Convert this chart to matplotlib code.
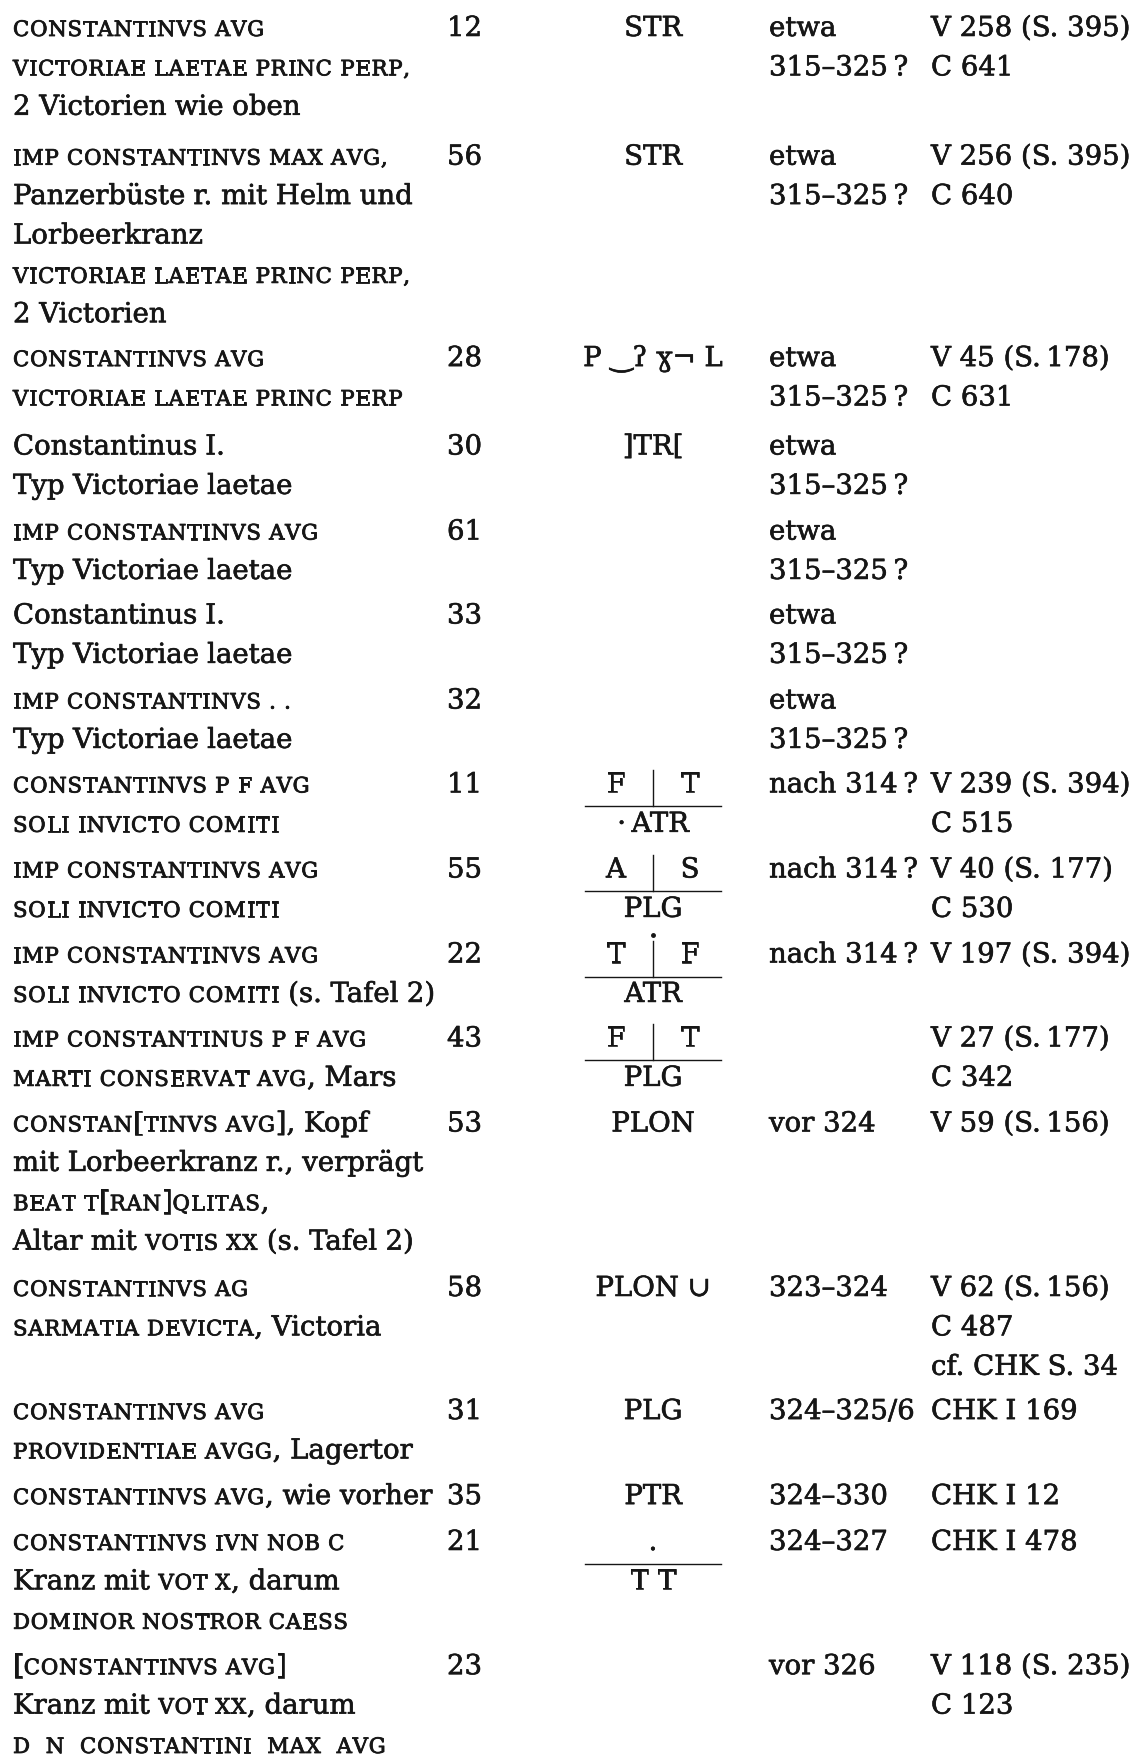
import re
import matplotlib
matplotlib.use("Agg")
import matplotlib.pyplot as plt
import matplotlib.patheffects as pe

FONT = ["DejaVu Serif", "DejaVu Sans"]
INK = "#161616"
DICK = [pe.withStroke(linewidth=0.45, foreground=INK)]
DICK_SC = [pe.withStroke(linewidth=0.6, foreground=INK)]

# Katalog-Daten, {...} = Kapitälchen
nummern = [12, 56, 28, 30, 61, 33, 32, 11, 55, 22, 43, 53, 58, 31, 35, 21, 23]

legende = [
    ["{CONSTANTINVS AVG}", "{VICTORIAE LAETAE PRINC PERP,}", "2 Victorien wie oben"],
    ["{IMP CONSTANTINVS MAX AVG,}", "Panzerbüste r. mit Helm und", "Lorbeerkranz",
     "{VICTORIAE LAETAE PRINC PERP,}", "2 Victorien"],
    ["{CONSTANTINVS AVG}", "{VICTORIAE LAETAE PRINC PERP}"],
    ["Constantinus I.", "Typ Victoriae laetae"],
    ["{IMP CONSTANTINVS AVG}", "Typ Victoriae laetae"],
    ["Constantinus I.", "Typ Victoriae laetae"],
    ["{IMP CONSTANTINVS . .}", "Typ Victoriae laetae"],
    ["{CONSTANTINVS P F AVG}", "{SOLI INVICTO COMITI}"],
    ["{IMP CONSTANTINVS AVG}", "{SOLI INVICTO COMITI}"],
    ["{IMP CONSTANTINVS AVG}", "{SOLI INVICTO COMITI} (s. Tafel 2)"],
    ["{IMP CONSTANTINUS P F AVG}", "{MARTI CONSERVAT AVG}, Mars"],
    ["{CONSTAN}[{TINVS AVG}], Kopf", "mit Lorbeerkranz r., verprägt",
     "{BEAT T}[{RAN}]{QLITAS},", "Altar mit {VOTIS XX} (s. Tafel 2)"],
    ["{CONSTANTINVS AG}", "{SARMATIA DEVICTA}, Victoria"],
    ["{CONSTANTINVS AVG}", "{PROVIDENTIAE AVGG}, Lagertor"],
    ["{CONSTANTINVS AVG}, wie vorher"],
    ["{CONSTANTINVS IVN NOB C}", "Kranz mit {VOT X}, darum", "{DOMINOR NOSTROR CAESS}"],
    ["[{CONSTANTINVS AVG}]", "Kranz mit {VOT XX}, darum", "{D  N  CONSTANTINI  MAX  AVG}"],
]

mzz_oben = ["STR", "STR", "P ‿ʔ ɣ¬ L", "]TR[", "", "", "", "F|T", "A|S", "T|F", "F|T",
            "PLON", "PLON ∪", "PLG", "PTR", ".", ""]
mzz_unten = ["", "", "", "", "", "", "", "·\u2009ATR", "PLG", "ATR", "PLG",
             "", "", "", "", "T T", ""]
mzz_punkt = [9]

daten = [["etwa", "315–325\u2009?"]] * 7 + [["nach 314\u2009?"]] * 3 + [
    [], ["vor 324"], ["323–324"], ["324–325/6"], ["324–330"], ["324–327"], ["vor 326"]]

belege = [
    ["V 258 (S. 395)", "C 641"],
    ["V 256 (S. 395)", "C 640"],
    ["V 45 (S.\u2009178)", "C 631"],
    [], [], [], [],
    ["V 239 (S. 394)", "C 515"],
    ["V 40 (S. 177)", "C 530"],
    ["V 197 (S. 394)"],
    ["V 27 (S.\u2009177)", "C 342"],
    ["V 59 (S.\u2009156)"],
    ["V 62 (S.\u2009156)", "C 487", "cf. CHK S. 34"],
    ["CHK I 169"],
    ["CHK I 12"],
    ["CHK I 478"],
    ["V 118 (S. 235)", "C 123"],
]

# Satzspiegel (Pixel)
W, H = 1146, 1758
X_LEG, X_NUM, X_MZ, X_DAT, X_REF = 13, 447, 653, 769, 931
ZEILE = 39.4
kopf = [25, 140, 320, 399, 475, 550, 626, 701, 777, 853, 928, 1004, 1151, 1261, 1337, 1378, 1489]
basis = [k * 1.119 + 9 for k in kopf]

fig = plt.figure(figsize=(W / 100, H / 100), dpi=100)
ax = fig.add_axes([0, 0, 1, 1])
ax.set_xlim(0, W)
ax.set_ylim(H, 0)
ax.axis("off")
R = fig.canvas.get_renderer()

_cache = {}


def breite(s, size):
    if (s, size) not in _cache:
        t = ax.text(0, 0, s, fontsize=size, family=FONT)
        _cache[(s, size)] = t.get_window_extent(R).width
        t.remove()
    return _cache[(s, size)]


def vorschub(s, size):
    return breite("|" + s + "|", size) - breite("||", size)


RM = 20 * 400 / vorschub("Panzerbüste r. mit Helm und", 20)
SC = RM * 0.77
# Sperrung der Kapitälchen
_probe = "VICTORIAE LAETAE PRINC PERP,"
SPERR = (397 - sum(vorschub(c, SC) for c in _probe)) / (len(_probe) - 1)


def schreib(x, y, s, size=None, ha="left", fx=DICK):
    ax.text(x, y, s, fontsize=size or RM, family=FONT, color=INK, ha=ha, va="baseline",
            path_effects=fx)


def zeile(x, y, markup):
    for teil in re.split(r"(\{[^}]*\})", markup):
        if not teil:
            continue
        if teil.startswith("{"):
            for c in teil[1:-1]:
                if c != " ":
                    schreib(x, y, c, SC, fx=DICK_SC)
                x += vorschub(c, SC) + SPERR
            continue
        for stueck in re.split(r"( +)", teil):
            if not stueck:
                continue
            if stueck.strip():
                schreib(x, y, stueck)
            x += vorschub(stueck, RM)


for i, b0 in enumerate(basis):
    for k, txt in enumerate(legende[i]):
        zeile(X_LEG, b0 + k * ZEILE, txt)
    schreib(X_NUM, b0, str(nummern[i]))
    for k, txt in enumerate(daten[i]):
        schreib(X_DAT, b0 + k * ZEILE, txt)
    for k, txt in enumerate(belege[i]):
        schreib(X_REF, b0 + k * ZEILE, txt)

    oben = mzz_oben[i]
    if "|" in oben:
        l, r = oben.split("|")
        schreib(X_MZ - 37, b0, l, ha="center")
        schreib(X_MZ + 37, b0, r, ha="center")
        ax.plot([X_MZ, X_MZ], [b0 - 22, b0 + 14], color=INK, lw=1.0)
    elif oben:
        if vorschub(oben, RM) > 140:
            schreib(X_MZ - 66, b0, oben)
        else:
            schreib(X_MZ, b0, oben, ha="center")
    if mzz_unten[i]:
        ax.plot([X_MZ - 68, X_MZ + 68], [b0 + 14, b0 + 14], color=INK, lw=1.0)
        schreib(X_MZ, b0 + ZEILE, mzz_unten[i], ha="center")
    if i in mzz_punkt:
        ax.plot([X_MZ], [b0 - 28], "o", color=INK, ms=2.5)

fig.savefig("out.png", dpi=100, facecolor="white")
